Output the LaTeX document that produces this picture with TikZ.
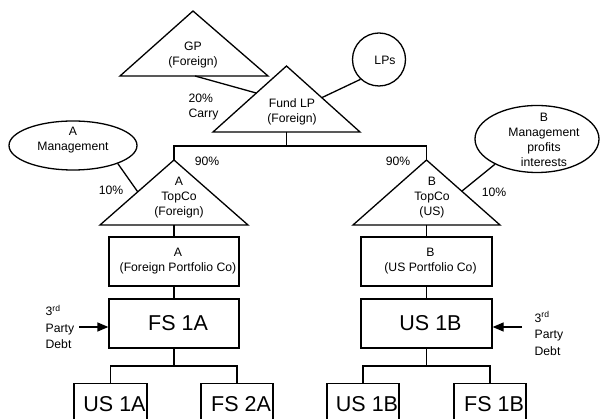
\documentclass[tikz,border=0pt]{standalone}
\usepackage{fontspec}
\setmainfont{Liberation Sans}
\usetikzlibrary{shapes.geometric,arrows.meta,calc}
% text inside the boxes sits slightly right of centre
\newcommand{\nudge}{\hspace*{8pt}}
\begin{document}
\begin{tikzpicture}[x=1pt,y=-1pt,
  line width=1.3pt, line join=miter,
  txt/.style={font=\fontsize{12.2}{15}\selectfont, align=center, inner sep=0pt},
  box/.style={draw, rectangle, minimum width=130pt, minimum height=49pt,
    inner sep=0pt, align=center, font=\fontsize{12.2}{15}\selectfont},
  bigbox/.style={box, font=\fontsize{21.5}{25}\selectfont},
  leafbox/.style={draw, rectangle, minimum width=72pt, minimum height=40pt,
    anchor=north, inner sep=0pt, font=\fontsize{21.5}{25}\selectfont},
  oval/.style={draw, ellipse, inner sep=0pt},
  debt/.style={-{Triangle[length=11pt,width=9pt]}},
  debttxt/.style={font=\fontsize{12.2}{16.5}\selectfont, align=left, inner sep=0pt, anchor=west},
]
\useasboundingbox (0,0) rectangle (600,419);
\clip (0,0) rectangle (600,419);

% ---- triangles (partnerships / holding companies) ----
\coordinate (gpapex) at (193,11);
\coordinate (gpbl) at (120,76);
\coordinate (gpbr) at (268,76);
\coordinate (gpbase) at (195,76);
\draw (gpbl) -- (gpapex) -- (gpbr) -- cycle;
\node[txt] (gp) at (193,55.5) {GP\\(Foreign)};

\coordinate (fundapex) at (286.5,66);
\coordinate (fundbl) at (213,132);
\coordinate (fundbr) at (360,132);
\coordinate (fundbase) at (286.5,132);
\draw (fundbl) -- (fundapex) -- (fundbr) -- cycle;
\node[txt] (fund) at (292,111.5) {Fund LP\\(Foreign)};

\coordinate (aapex) at (174,160);
\coordinate (abl) at (100,225);
\coordinate (abr) at (248,225);
\coordinate (abase) at (174,225);
\draw (abl) -- (aapex) -- (abr) -- cycle;
\node[txt] (atop) at (179,198) {A\\TopCo\\(Foreign)};

\coordinate (bapex) at (426.5,160);
\coordinate (bbl) at (353,225);
\coordinate (bbr) at (500,225);
\coordinate (bbase) at (426.5,225);
\draw (bbl) -- (bapex) -- (bbr) -- cycle;
\node[txt] (btop) at (432,198) {B\\TopCo\\(US)};

% ---- investors and management ----
\node[draw, circle, minimum size=53pt, inner sep=0pt] (lps) at (379,59.5) {};
\node[txt] (lpst) at (385,60) {LPs};

\node[oval, minimum width=128pt, minimum height=49pt] (amgmt) at (73,145.5) {};
\node[txt] (amgmtt) at (73,140.5) {A\\Management};

\node[oval, minimum width=124pt, minimum height=67pt] (bmgmt) at (537,139) {};
\node[txt] (bmgmtt) at (544,140) {B\\Management\\profits\\interests};

% ---- ownership lines ----
\draw (gpbase) -- ($(fundapex)!0.41!(fundbl)$);
\draw (lps.227) -- ($(fundapex)!0.48!(fundbr)$);
\draw (amgmt.-22) -- ($(aapex)!0.49!(abl)$);
\draw (bmgmt.211) -- ($(bapex)!0.48!(bbr)$);
\draw (fundbase) -- ++(0,14) -| (aapex);
\draw (fundbase) -- ++(0,14) -| (bapex);

\node[txt, anchor=west, align=left] (carry) at (188,107) {20\%\\Carry};
\node[txt] (pa90) at (207,161) {90\%};
\node[txt] (pb90) at (398,161) {90\%};
\node[txt] (pa10) at (111,190) {10\%};
\node[txt] (pb10) at (494,192) {10\%};

% ---- portfolio companies ----
\node[box] (aport) at (174,261.5) {\nudge A\\\nudge(Foreign Portfolio Co)};
\node[bigbox] (fs1a) at (174,323.5) {\nudge FS 1A};
\node[box, minimum width=131pt] (bport) at (426.5,261.5) {\nudge B\\\nudge(US Portfolio Co)};
\node[bigbox, minimum width=131pt] (us1b) at (426.5,323.5) {\nudge US 1B};

\draw (abase) -- (aport.north);
\draw (aport.south) -- (fs1a.north);
\draw (bbase) -- (bport.north);
\draw (bport.south) -- (us1b.north);

% ---- subsidiaries ----
\node[leafbox, minimum width=73pt] (us1a) at (110.5,383) {\nudge US 1A};
\node[leafbox] (fs2a) at (237,383) {\nudge FS 2A};
\node[leafbox] (us1bc) at (363,383) {\nudge US 1B};
\node[leafbox] (fs1b) at (490,383) {\nudge FS 1B};

\draw (fs1a.south) -- ++(0,17.5) -| (us1a.north);
\draw (fs1a.south) -- ++(0,17.5) -| (fs2a.north);
\draw (us1b.south) -- ++(0,17.5) -| (us1bc.north);
\draw (us1b.south) -- ++(0,17.5) -| (fs1b.north);

% ---- third party debt ----
\node[debttxt] (ldebtt) at (45,327) {3\textsuperscript{rd}\\Party\\Debt};
\coordinate (ldebt) at (79,327);
\draw[debt] (ldebt) -- (ldebt -| fs1a.west);

\node[debttxt] (rdebtt) at (534,333.5) {3\textsuperscript{rd}\\Party\\Debt};
\coordinate (rdebt) at (522,327);
\draw[debt] (rdebt) -- (rdebt -| us1b.east);
\end{tikzpicture}
\end{document}
